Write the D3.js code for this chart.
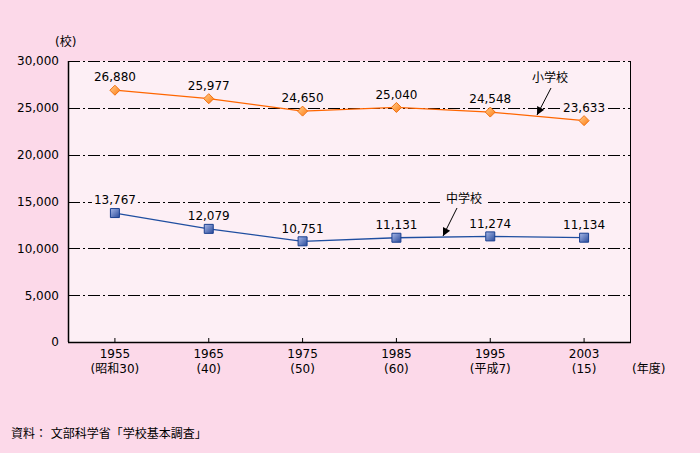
<!DOCTYPE html>
<html>
<head>
<meta charset="utf-8">
<script src="https://cdn.jsdelivr.net/npm/d3@7"></script>
<style>
  body { margin: 0; background: #fcd9e9; }
  svg { display: block; font-family: "DejaVu Sans", "Noto Sans CJK JP", sans-serif; }
</style>
</head>
<body>
<svg></svg>
<script>
// data
let years = ['1955', '1965', '1975', '1985', '1995', '2003'];
let eras = ['(昭和30)', '(40)', '(50)', '(60)', '(平成7)', '(15)'];
let elementary = [26880, 25977, 24650, 25040, 24548, 23633];
let juniorHigh = [13767, 12079, 10751, 11131, 11274, 11134];
let yTicks = [0, 5000, 10000, 15000, 20000, 25000, 30000];

let width = 700;
let height = 453;
let plotLeft = 68, plotRight = 631, plotTop = 61, plotBottom = 342;
let fontFam = '"DejaVu Sans", "Noto Sans CJK JP", sans-serif';
let plotBg = '#fdeff5';

let svg = d3.select('svg').attr('width', width).attr('height', height);

let xScale = d3.scaleBand().domain(years).range([plotLeft, plotRight]);
let yScale = d3.scaleLinear().domain([0, 30000]).range([plotBottom, plotTop]);
let cx = (d) => xScale(d) + xScale.bandwidth() / 2;

let fmt = d3.format(',');

// gradients for markers
let defs = svg.append('defs');
let og = defs.append('linearGradient').attr('id', 'og').attr('x1', 0).attr('y1', 0).attr('x2', 1).attr('y2', 1);
og.append('stop').attr('offset', '0%').attr('stop-color', '#ffd090');
og.append('stop').attr('offset', '100%').attr('stop-color', '#ff7a10');
let bg = defs.append('linearGradient').attr('id', 'bg').attr('x1', 0).attr('y1', 0).attr('x2', 1).attr('y2', 1);
bg.append('stop').attr('offset', '0%').attr('stop-color', '#a8b8e8');
bg.append('stop').attr('offset', '100%').attr('stop-color', '#2a4a9a');

// plot background
svg.append('rect')
  .attr('x', plotLeft).attr('y', plotTop)
  .attr('width', plotRight - plotLeft).attr('height', plotBottom - plotTop)
  .attr('fill', plotBg);

// gridlines
svg.append('g')
  .selectAll('line')
  .data(yTicks.filter(d => d > 0))
  .enter()
  .append('line')
  .attr('x1', plotLeft).attr('x2', plotRight)
  .attr('y1', d => Math.round(yScale(d)) + 0.5).attr('y2', d => Math.round(yScale(d)) + 0.5)
  .attr('stroke', '#000')
  .attr('stroke-width', 1)
  .attr('stroke-dasharray', '12,3,2,3');

// y axis labels
let yAxis = d3.axisLeft(yScale).tickValues(yTicks).tickFormat(fmt).tickSize(0).tickPadding(9);
svg.append('g')
  .attr('transform', `translate(${plotLeft}, 0)`)
  .call(yAxis)
  .call(g => g.select('.domain').remove())
  .selectAll('text')
  .attr('font-size', 12)
  .attr('fill', '#000')
  .attr('font-family', fontFam);

// x axis, ticks inward
let xAxis = d3.axisBottom(xScale).tickSize(-4).tickFormat('');
let gx = svg.append('g')
  .attr('transform', `translate(0, ${plotBottom})`)
  .call(xAxis);
gx.select('.domain').remove();
gx.selectAll('line').attr('stroke', '#000');

// x labels
svg.append('g').selectAll('text')
  .data(years)
  .enter()
  .append('text')
  .attr('x', d => cx(d))
  .attr('y', plotBottom + 16)
  .attr('text-anchor', 'middle')
  .attr('font-size', 12)
  .text(d => d);
svg.append('g').selectAll('text')
  .data(eras)
  .enter()
  .append('text')
  .attr('x', (d, i) => cx(years[i]))
  .attr('y', plotBottom + 31)
  .attr('text-anchor', 'middle')
  .attr('font-size', 12)
  .text(d => d);

// plot frame
svg.append('line').attr('x1', plotLeft + 0.5).attr('x2', plotLeft + 0.5).attr('y1', plotTop).attr('y2', plotBottom).attr('stroke', '#000').attr('stroke-width', 1.5);
svg.append('line').attr('x1', plotRight - 0.5).attr('x2', plotRight - 0.5).attr('y1', plotTop).attr('y2', plotBottom).attr('stroke', '#000');
svg.append('line').attr('x1', plotLeft).attr('x2', plotRight).attr('y1', plotBottom + 0.5).attr('y2', plotBottom + 0.5).attr('stroke', '#000').attr('stroke-width', 1.5);
svg.append('line').attr('x1', plotLeft).attr('x2', plotRight).attr('y1', plotTop + 0.5).attr('y2', plotTop + 0.5).attr('stroke', '#000').attr('stroke-dasharray', '12,3,2,3');

// lines
let line = d3.line().x((d, i) => cx(years[i])).y(d => yScale(d));

let drawSeries = (values, color, kind, fill) => {
  svg.append('path')
    .datum(values)
    .attr('fill', 'none')
    .attr('stroke', color)
    .attr('stroke-width', 1.3)
    .attr('d', line);

  // labels with background cutting gridlines
  let lab = svg.append('g').selectAll('g')
    .data(values)
    .enter()
    .append('g')
    .attr('transform', (d, i) => `translate(${cx(years[i])}, ${yScale(d) - 13})`);
  lab.append('rect')
    .attr('x', -23).attr('y', -6)
    .attr('width', 46).attr('height', 12)
    .attr('fill', plotBg);
  lab.append('text')
    .attr('text-anchor', 'middle')
    .attr('dy', '0.35em')
    .attr('font-size', 12)
    .text(d => fmt(d));

  svg.append('g').selectAll('path')
    .data(values)
    .enter()
    .append('path')
    .attr('transform', (d, i) => `translate(${cx(years[i])}, ${yScale(d)})`)
    .attr('fill', fill)
    .attr('stroke', kind === 'diamond' ? '#f07010' : '#1a3f8f')
    .attr('stroke-width', 1)
    .attr('d', kind === 'diamond' ? 'M0,-5L5,0L0,5L-5,0Z' : 'M-4.5,-4.5H4.5V4.5H-4.5Z');
};

drawSeries(elementary, '#ff6600', 'diamond', 'url(#og)');
drawSeries(juniorHigh, '#1f4ea0', 'square', 'url(#bg)');

// annotations
let annotate = (label, tx, ty, x1, y1, x2, y2) => {
  svg.append('rect').attr('x', tx - 22).attr('y', ty - 8).attr('width', 44).attr('height', 15).attr('fill', plotBg);
  svg.append('text').attr('x', tx).attr('y', ty).attr('dy', '0.35em').attr('text-anchor', 'middle').attr('font-size', 12).text(label);
  svg.append('line').attr('x1', x1).attr('y1', y1).attr('x2', x2).attr('y2', y2).attr('stroke', '#000').attr('stroke-width', 1);
  let ang = Math.atan2(y2 - y1, x2 - x1);
  let s = 8, w = 4;
  let bx = x2 - s * Math.cos(ang), by = y2 - s * Math.sin(ang);
  svg.append('path')
    .attr('d', `M${x2},${y2}L${bx + w * Math.sin(ang)},${by - w * Math.cos(ang)}L${bx - w * Math.sin(ang)},${by + w * Math.cos(ang)}Z`)
    .attr('fill', '#000');
};
annotate('小学校', 550, 78, 551, 88, 537, 115);
annotate('中学校', 464, 199, 457, 208, 443, 236);

// unit labels
svg.append('text').attr('x', 55).attr('y', 46).attr('font-size', 12).text('(校)');
svg.append('text').attr('x', 632).attr('y', 373).attr('font-size', 12).text('(年度)');
svg.append('text').attr('x', 11).attr('y', 438).attr('font-size', 12).text('資料： 文部科学省「学校基本調査」');
</script>
</body>
</html>
